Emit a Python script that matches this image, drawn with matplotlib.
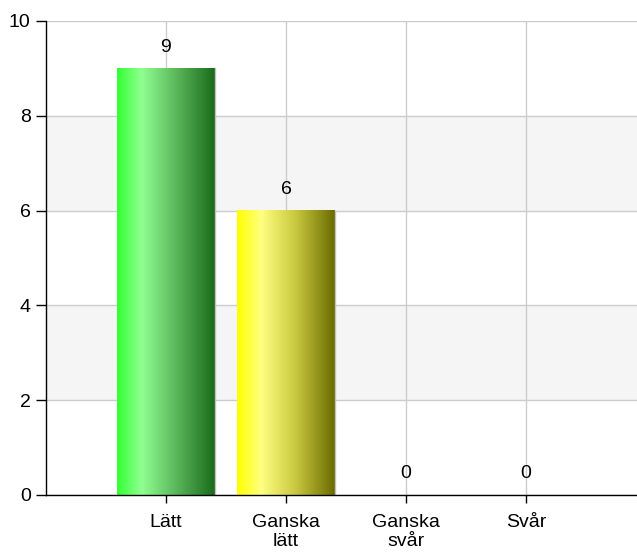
import numpy as np
import matplotlib.pyplot as plt
from matplotlib.colors import LinearSegmentedColormap

categories = ['Lätt', 'Ganska\nlätt', 'Ganska\nsvår', 'Svår']
values = [9, 6, 0, 0]
bar_colors = [
    ['#33ff33', '#90ff90', '#5cb85c', '#1a6b1a'],
    ['#ffff00', '#ffff80', '#c8c840', '#6b6b00'],
    ['#33ff33', '#90ff90', '#5cb85c', '#1a6b1a'],
    ['#ffff00', '#ffff80', '#c8c840', '#6b6b00'],
]

plt.rcParams['font.family'] = ['Liberation Sans', 'DejaVu Sans']

fig = plt.figure(figsize=(6.37, 5.52), dpi=100)
ax = fig.add_axes([0.0722, 0.1033, 0.9278, 0.8587])

x = np.arange(len(categories))
ax.set_xlim(-1, 3.925)
ax.set_ylim(0, 10)

# alternating bands
for lo in (2, 6):
    ax.axhspan(lo, lo + 2, color='#f5f5f5', zorder=0, lw=0)
ax.set_yticks([0, 2, 4, 6, 8, 10])
ax.set_xticks(x)
ax.set_xticklabels(categories, fontsize=14, linespacing=1.15)
ax.tick_params(axis='y', labelsize=14, length=7, width=1, pad=4)
ax.tick_params(axis='x', length=6, width=1, pad=8)
ax.grid(True, color='#cccccc', lw=1, zorder=1)
ax.set_axisbelow(True)

for s in ('top', 'right'):
    ax.spines[s].set_visible(False)
for s in ('left', 'bottom'):
    ax.spines[s].set_color('black')
    ax.spines[s].set_linewidth(1)
    ax.spines[s].set_zorder(5)

bars = ax.bar(x, values, width=0.81, color='none', edgecolor='none', zorder=2)
for b, cols, v in zip(bars, bar_colors, values):
    if v > 0:
        cmap = LinearSegmentedColormap.from_list('g', list(zip([0, 0.25, 0.6, 1], cols)))
        grad = np.linspace(0, 1, 256).reshape(1, -1)
        ax.imshow(grad, cmap=cmap, aspect='auto', zorder=3,
                  extent=(b.get_x(), b.get_x() + b.get_width(), 0, b.get_height()))
        ax.plot([b.get_x() + b.get_width() + 0.003] * 2, [0, b.get_height()],
                color='#c0c0c0', lw=1, zorder=3)
    ax.annotate(str(v), (b.get_x() + b.get_width() / 2, b.get_height()),
                xytext=(0, 9), textcoords='offset points',
                ha='center', va='bottom', fontsize=14, zorder=6)

ax.set_xlim(-1, 3.925)
ax.set_ylim(0, 10)

fig.savefig('out.png', dpi=100)
